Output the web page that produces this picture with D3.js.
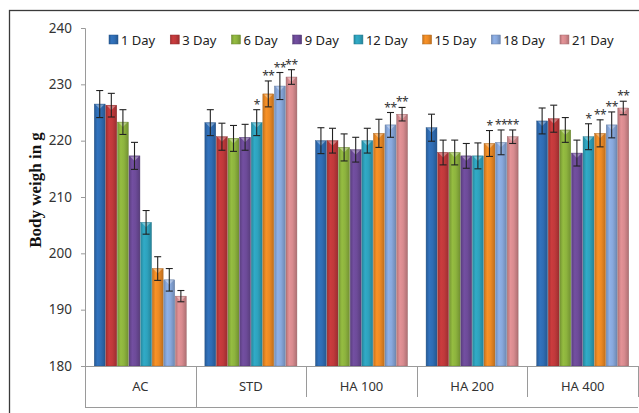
<!DOCTYPE html>
<html>
<head>
<meta charset="utf-8">
<script src="https://cdn.jsdelivr.net/npm/d3@7"></script>
<style>
  body { margin: 0; background: #fff; }
  svg { display: block; font-family: 'Noto Sans', sans-serif; }
</style>
</head>
<body>
<svg id="chart" width="639" height="413"></svg>
<script>
const categories = ['AC', 'STD', 'HA 100', 'HA 200', 'HA 400'];
const series = ['1 Day', '3 Day', '6 Day', '9 Day', '12 Day', '15 Day', '18 Day', '21 Day'];
const colors = ['#2f6db4', '#c0393b', '#8db33e', '#6d4b99', '#2ea2bd', '#ec8a25', '#88a8dc', '#d88b8f'];

// mean body weight per series, one value per category
const day1 = [226.5, 223.2, 220.0, 222.3, 223.5];
const day3 = [226.3, 220.7, 220.0, 217.9, 223.9];
const day6 = [223.3, 220.4, 218.8, 217.9, 221.9];
const day9 = [217.3, 220.6, 218.4, 217.3, 217.8];
const day12 = [205.5, 223.2, 220.0, 217.3, 220.7];
const day15 = [197.3, 228.3, 221.3, 219.5, 221.3];
const day18 = [195.3, 229.7, 222.8, 219.7, 222.8];
const day21 = [192.4, 231.3, 224.7, 220.7, 225.8];

// error bar half-lengths
const err1 = [2.4, 2.3, 2.3, 2.4, 2.3];
const err3 = [2.1, 2.4, 2.2, 2.2, 2.4];
const err6 = [2.2, 2.3, 2.4, 2.2, 2.2];
const err9 = [2.4, 2.3, 2.2, 2.2, 2.3];
const err12 = [2.1, 2.3, 2.2, 2.3, 2.3];
const err15 = [2.1, 2.3, 2.5, 2.3, 2.4];
const err18 = [2.0, 2.4, 2.2, 2.2, 2.3];
const err21 = [1.0, 1.3, 1.2, 1.2, 1.2];

// significance marks
const sig12 = ['', '*', '', '', '*'];
const sig15 = ['', '**', '', '*', '**'];
const sig18 = ['', '**', '**', '**', '**'];
const sig21 = ['', '**', '**', '**', '**'];
const none = ['', '', '', '', ''];

const yTicks = [180, 190, 200, 210, 220, 230, 240];

const values = [day1, day3, day6, day9, day12, day15, day18, day21];
const errors = [err1, err3, err6, err9, err12, err15, err18, err21];
const sigs = [none, none, none, none, sig12, sig15, sig18, sig21];

const svg = d3.select('#chart');

// outer frame
svg.append('rect')
  .attr('x', 9.5).attr('y', 10.5)
  .attr('width', 640).attr('height', 410)
  .attr('fill', 'none').attr('stroke', '#3a3a3a').attr('stroke-width', 1.3);

const plot = { left: 85, right: 638, top: 28, bottom: 366 };

const y = d3.scaleLinear().domain([180, 240]).range([plot.bottom, plot.top]);
const x0 = d3.scaleBand().domain(categories).range([plot.left, plot.right]);
const x1 = d3.scaleBand().domain(series).range([0, x0.bandwidth()])
  .paddingInner(0.06).paddingOuter(0.8);

// gradients for the 3d bar look
const defs = svg.append('defs');
colors.forEach((c, i) => {
  const g = defs.append('linearGradient').attr('id', 'g' + i)
    .attr('x1', '0%').attr('x2', '100%').attr('y1', '0%').attr('y2', '0%');
  const base = d3.color(c);
  g.append('stop').attr('offset', '0%').attr('stop-color', base.darker(0.5));
  g.append('stop').attr('offset', '30%').attr('stop-color', base.brighter(0.15));
  g.append('stop').attr('offset', '60%').attr('stop-color', base);
  g.append('stop').attr('offset', '100%').attr('stop-color', base.darker(0.6));
});

// y axis
const yAxis = svg.append('g')
  .attr('transform', `translate(${plot.left},0)`)
  .call(d3.axisLeft(y).tickValues(yTicks).tickSize(4).tickPadding(9));
yAxis.select('.domain').attr('stroke', '#9a9a9a');
yAxis.selectAll('.tick line').attr('stroke', '#9a9a9a');
yAxis.selectAll('.tick text')
  .attr('fill', '#333').style('font-size', '13.5px')
  .style('font-family', "'Noto Sans', sans-serif");

svg.append('text')
  .attr('transform', 'translate(41,190) rotate(-90)')
  .attr('text-anchor', 'middle')
  .style('font-family', "'Liberation Serif', serif")
  .style('font-weight', 'bold')
  .style('font-size', '17px')
  .attr('fill', '#111')
  .text('Body weigh in g');

// bars
const rows = [];
series.forEach((s, si) => {
  categories.forEach((c, ci) => {
    rows.push({ s, si, c, v: values[si][ci], e: errors[si][ci], sig: sigs[si][ci] });
  });
});

const bars = svg.append('g');
bars.selectAll('rect')
  .data(rows)
  .enter().append('rect')
  .attr('x', d => x0(d.c) + x1(d.s))
  .attr('y', d => y(d.v))
  .attr('width', x1.bandwidth())
  .attr('height', d => y(180) - y(d.v))
  .attr('fill', d => `url(#g${d.si})`)
  .attr('stroke', d => d3.color(colors[d.si]).darker(1))
  .attr('stroke-width', 0.4);

// little highlight on top of each bar
bars.selectAll('path.hl')
  .data(rows)
  .enter().append('path')
  .attr('class', 'hl')
  .attr('d', d => {
    const bx = x0(d.c) + x1(d.s), w = x1.bandwidth(), ty = y(d.v);
    return `M${bx + 1},${ty + 0.5} L${bx + w - 1},${ty + 0.5} L${bx + w / 2},${ty + 5} Z`;
  })
  .attr('fill', '#fff').attr('fill-opacity', 0.35);

// error bars
const eb = svg.append('g').attr('stroke', '#222').attr('stroke-width', 1.1);
rows.forEach(d => {
  const cx = x0(d.c) + x1(d.s) + x1.bandwidth() / 2;
  const top = y(d.v + d.e), bot = y(d.v - d.e);
  eb.append('line').attr('x1', cx).attr('x2', cx).attr('y1', top).attr('y2', bot);
  eb.append('line').attr('x1', cx - 3.5).attr('x2', cx + 3.5).attr('y1', top).attr('y2', top);
  eb.append('line').attr('x1', cx - 3.5).attr('x2', cx + 3.5).attr('y1', bot).attr('y2', bot);
});

// significance stars
svg.append('g').selectAll('text')
  .data(rows.filter(d => d.sig))
  .enter().append('text')
  .attr('x', d => x0(d.c) + x1(d.s) + x1.bandwidth() / 2)
  .attr('y', d => y(d.v + d.e) - 1)
  .attr('text-anchor', 'middle')
  .style('font-size', '12px')
  .style('letter-spacing', '-0.5px')
  .attr('fill', '#333')
  .text(d => d.sig);

// category axis with table style cells
const xa = svg.append('g').attr('stroke', '#9a9a9a').attr('stroke-width', 1);
xa.append('line').attr('x1', plot.left).attr('x2', plot.right)
  .attr('y1', plot.bottom + 0.5).attr('y2', plot.bottom + 0.5);
xa.append('line').attr('x1', plot.left).attr('x2', plot.right)
  .attr('y1', 407.5).attr('y2', 407.5);
const edges = categories.map(c => x0(c)).concat([plot.right]);
edges.forEach((ex, i) => {
  const full = i <= 1;
  xa.append('line')
    .attr('x1', Math.round(ex) + 0.5).attr('x2', Math.round(ex) + 0.5)
    .attr('y1', plot.bottom).attr('y2', full ? 407.5 : 397);
});
svg.append('g').selectAll('text')
  .data(categories)
  .enter().append('text')
  .attr('x', d => x0(d) + x0.bandwidth() / 2)
  .attr('y', 391)
  .attr('text-anchor', 'middle')
  .style('font-size', '13px')
  .attr('fill', '#333')
  .text(d => d);

// legend
const legend = svg.append('g').attr('transform', 'translate(109,40)');
let lx = 0;
series.forEach((s, i) => {
  const item = legend.append('g').attr('transform', `translate(${lx},0)`);
  item.append('rect')
    .attr('x', 0).attr('y', -5).attr('width', 9).attr('height', 9)
    .attr('fill', `url(#g${i})`)
    .attr('stroke', d3.color(colors[i]).darker(0.8)).attr('stroke-width', 0.5);
  const t = item.append('text')
    .attr('x', 12).attr('y', 4.5)
    .style('font-size', '13px')
    .attr('fill', '#222')
    .text(s);
  lx += 12 + t.node().getComputedTextLength() + 15;
});
</script>
</body>
</html>
